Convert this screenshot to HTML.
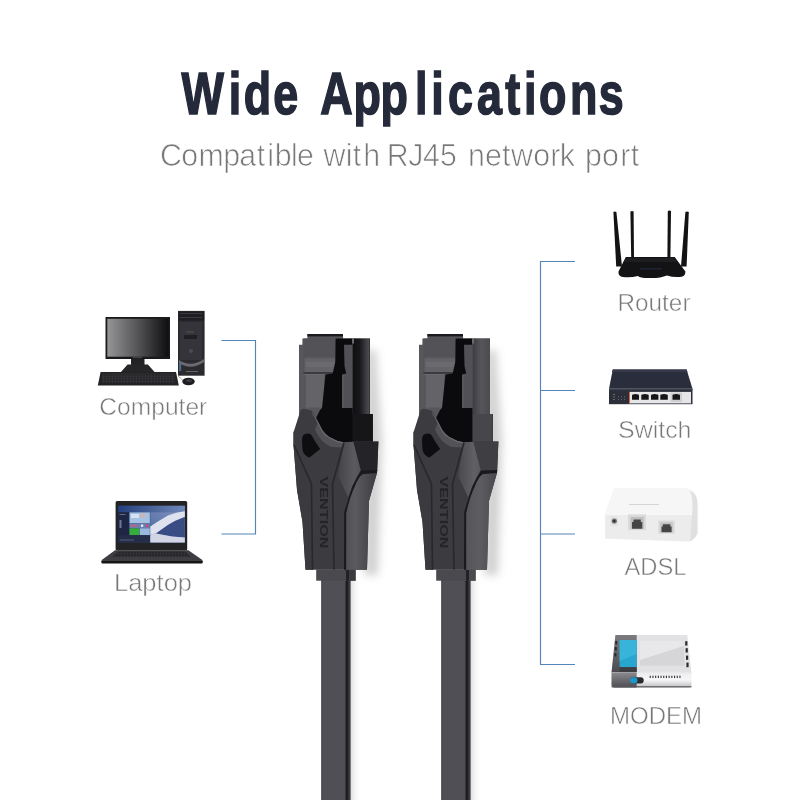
<!DOCTYPE html>
<html><head><meta charset="utf-8">
<style>
html,body{margin:0;padding:0;background:#fff;}
#c{position:relative;width:800px;height:800px;overflow:hidden;background:#fff;}
svg{position:absolute;left:0;top:0;}
</style></head>
<body><div id="c">
<svg width="800" height="800" viewBox="0 0 800 800">
<defs>
  <filter id="nop" x="0" y="0" width="800" height="800" filterUnits="userSpaceOnUse"><feOffset dx="0" dy="0"/></filter>
  <linearGradient id="scr" x1="0" x2="1" y1="0" y2="0">
    <stop offset="0" stop-color="#959597"/><stop offset="0.5" stop-color="#545456"/><stop offset="1" stop-color="#0e0e10"/>
  </linearGradient>
  <linearGradient id="cabR" x1="0" x2="1"><stop offset="0" stop-color="#0f0f11"/><stop offset="0.4" stop-color="#17171a"/><stop offset="0.92" stop-color="#4a4a50"/><stop offset="1" stop-color="#2a2a2e"/></linearGradient>
  <filter id="blur4" x="-50%" y="-20%" width="200%" height="140%"><feGaussianBlur stdDeviation="4"/></filter>
  <linearGradient id="cabR2" x1="0" x2="1"><stop offset="0" stop-color="#3c3c41"/><stop offset="0.5" stop-color="#55555a"/><stop offset="1" stop-color="#4a4a4f"/></linearGradient>
  <pattern id="keys" width="3" height="2.5" patternUnits="userSpaceOnUse"><rect width="3" height="2.5" fill="#202023"/><rect x="0.4" y="0.4" width="2.1" height="1.6" fill="#3c3c41"/></pattern>
  <linearGradient id="lapbg" x1="0" x2="1" y1="0" y2="0"><stop offset="0" stop-color="#2a3c70"/><stop offset="1" stop-color="#5a74a8"/></linearGradient>
  <linearGradient id="laptop" x1="0" x2="1"><stop offset="0" stop-color="#23407e"/><stop offset="1" stop-color="#7088b8"/></linearGradient>
  <linearGradient id="wall" x1="0" x2="1" y1="1" y2="0"><stop offset="0" stop-color="#4a66a4"/><stop offset="1" stop-color="#8494bc"/></linearGradient>
  <linearGradient id="modL" x1="0" x2="0" y1="0" y2="1"><stop offset="0" stop-color="#7c7c80"/><stop offset="1" stop-color="#4a4a4e"/></linearGradient>
  <linearGradient id="modF" x1="0" x2="0" y1="0" y2="1"><stop offset="0" stop-color="#ececee"/><stop offset="0.5" stop-color="#f6f6f7"/><stop offset="1" stop-color="#bdbdc0"/></linearGradient>
  <linearGradient id="modFL" x1="0" x2="0" y1="0" y2="1"><stop offset="0" stop-color="#8a8a8e"/><stop offset="1" stop-color="#4e4e52"/></linearGradient>
  <linearGradient id="rpanel" x1="0" x2="1"><stop offset="0" stop-color="#505055"/><stop offset="0.3" stop-color="#5a5a5f"/><stop offset="1" stop-color="#3c3c41"/></linearGradient>
  <linearGradient id="rpanel2" x1="0" x2="1"><stop offset="0" stop-color="#55555a"/><stop offset="0.45" stop-color="#5c5c61"/><stop offset="1" stop-color="#48484d"/></linearGradient>
  <linearGradient id="wedge" x1="0" x2="1"><stop offset="0" stop-color="#434348"/><stop offset="0.7" stop-color="#5a5a5f"/><stop offset="1" stop-color="#525257"/></linearGradient>
  <linearGradient id="wedge2" x1="0" x2="1"><stop offset="0" stop-color="#48484d"/><stop offset="0.7" stop-color="#606065"/><stop offset="1" stop-color="#58585d"/></linearGradient>
  <linearGradient id="shadow" x1="0" x2="1"><stop offset="0" stop-color="#d8d8d8"/><stop offset="1" stop-color="#fff" stop-opacity="0"/></linearGradient>
</defs>

<!-- TEXT -->
<g filter="url(#nop)">
<text transform="scale(0.748,1)" x="242.61 305.87 326.0 365.19 405.19 428.25 472.57 508.53 554.8 576.39 598.8 637.73 675.57 700.68 720.71 761.91 800.34" y="114.2" font-family="Liberation Sans" font-weight="bold" font-size="60" fill="#252a3a" stroke="#252a3a" stroke-width="1.6">Wide Applications</text>
<text transform="scale(0.97,1)" x="165.05 186.91 204.74 230.12 246.56 264.6 275.4 283.21 300.12 306.28 316.28 333.53 356.32 363.57 374.47 384.47 398.71 420.93 435.98 453.7 463.7 482.51 500.09 517.44 526.83 549.8 567.2 577.18 587.18 603.11 620.68 639.37 650.38" y="166" font-family="Liberation Sans" font-size="31.3" fill="#777" stroke="#fff" stroke-width="0.75">Compatible with RJ45 network port</text>

<g font-family="Liberation Sans" font-size="23.8" fill="#777" stroke="#fff" stroke-width="0.5">
  <text x="99.3" y="414.5" textLength="108" lengthAdjust="spacingAndGlyphs">Computer</text>
  <text x="114" y="591" textLength="78" lengthAdjust="spacingAndGlyphs">Laptop</text>
  <text x="617.5" y="310.5" textLength="73" lengthAdjust="spacingAndGlyphs">Router</text>
  <text x="618" y="437.5" textLength="73.5" lengthAdjust="spacingAndGlyphs">Switch</text>
  <text x="624.5" y="574.5" textLength="62" lengthAdjust="spacingAndGlyphs">ADSL</text>
  <text x="610" y="724.3" textLength="92" lengthAdjust="spacingAndGlyphs">MODEM</text>
</g>
</g>

<!-- BLUE LINES -->
<g stroke="#5286ba" stroke-width="1.15" fill="none">
  <path d="M221.5 340.5 H255.5 V534 H221.5"/>
  <path d="M575 261.5 H540.5 V664.5 H575"/>
  <path d="M540.5 390.5 H575"/>
  <path d="M540.5 534 H575"/>
</g>

<!-- CABLES -->
<g>
  <rect x="350" y="580" width="12" height="220" fill="url(#shadow)" opacity="0.9"/>
  <rect x="321.2" y="580" width="29.4" height="220" fill="#3a3a3f"/>
  <rect x="322.2" y="580" width="23.4" height="220" fill="#4f4f55"/>
  <rect x="345.6" y="580" width="2.6" height="220" fill="#1e1e22"/>
</g>
<g transform="translate(120,0)">
  <rect x="350" y="580" width="12" height="220" fill="url(#shadow)" opacity="0.9"/>
  <rect x="321.2" y="580" width="29.4" height="220" fill="#3a3a3f"/>
  <rect x="322.2" y="580" width="23.4" height="220" fill="#4f4f55"/>
  <rect x="345.6" y="580" width="2.6" height="220" fill="#1e1e22"/>
</g>

<!-- CONNECTOR (left) -->
<g>
  <!-- shadow right -->
  <path d="M366 350 L376 350 L382 440 L378 575 L364 575 Z" fill="#9a9a9a" opacity="0.45" filter="url(#blur4)"/>
  <!-- collar -->
  <rect x="316.2" y="569.5" width="39.4" height="11.2" fill="#49494e"/>
  <rect x="346" y="569.5" width="3" height="11.2" fill="#222226"/>
  <rect x="349" y="569.5" width="6.6" height="11.2" fill="#3a3a3f"/>
  <!-- plug silhouette -->
  <path d="M307.4 334 H343 V338.5 H370 V414 H372.7 V443 H299 V344.7 H302.4 V338.5 H307.4 Z" fill="#56565b"/>
  <!-- top tab dark edge -->
  <rect x="307.4" y="334" width="35.6" height="2.4" fill="#1c1c20"/>
  <!-- latch top block -->
  <rect x="303.5" y="338.5" width="31.8" height="35" fill="#525257"/>
  <rect x="304.5" y="357.5" width="30.8" height="14.8" fill="#636368"/>
  <rect x="304.5" y="357.5" width="30.8" height="1" fill="#58585d"/>
  <rect x="306" y="362" width="29" height="5" fill="#6a6a6f"/>
  <rect x="303.5" y="372.3" width="31.8" height="1.3" fill="#2e2e32"/>
  <!-- lighter panel under block -->
  <rect x="306" y="374.5" width="18" height="33" fill="#636368"/>
  <rect x="303.5" y="374" width="22" height="0.8" fill="#6c6c71"/>
  <!-- right column -->
  <rect x="352.4" y="338.5" width="17.6" height="76" fill="url(#cabR)"/>
  <rect x="351" y="338.5" width="3" height="5" fill="#6a6a6e"/>
  <!-- gray strip -->
  <rect x="344" y="344.7" width="8.4" height="63" fill="#505056"/>
  <!-- black latch -->
  <path d="M335.6 338.5 H352 V344.7 H344 L344.5 366 L346.2 373.5 L342 374.5 L342 408 L352.4 408 L352.4 414 L372.7 414 L372.7 443 L345 445 L336 443 L326 438 L320 430 L316 418 L320 410 L322 408 L325.5 374.5 L332.7 373.5 L335.3 362 Z" fill="#0b0b0d"/>
  <path d="M352.4 414 H372.7 V443 H352.4 Z" fill="#161619"/>
  <!-- boot body -->
  <path d="M293.5 432 L293.5 445 L297 490 L302.5 522 L305.5 569.7 L367 569.7 L369 501 L377 473 L378.4 441.5 L352.5 441.5 L344.5 442.5 L337.5 441 L328.75 436.75 L322.6 430.6 L300 430 Z" fill="#3b3b40"/>
  <!-- left facet -->
  <path d="M293.5 445 L311.5 484 L312.5 569.7 L305.5 569.7 L302.5 522 L297 490 Z" fill="#3a3a3f"/>
  <!-- hood -->
  <path d="M293.5 432 L294.6 429 L300 412 Q301 408.75 303.5 408.75 L311.25 410.5 Q314.5 414 318.25 422 L322.6 430.6 Q325 434.5 328.75 436.75 L337.5 441 L344.5 442.5 L338 458 Q330 461 322 461 Q314 461 308 460 L300 455 L293.5 445 Z" fill="#3b3b40"/>
  <!-- hood highlight band -->
  <path d="M317.5 423 L322.6 430.6 Q325 434.5 328.75 436.75 L337.5 441 L344.5 442.5 L343 447.5 L331 447 Q323 443 319 437 L315 430 Z" fill="#525257"/>
  <path d="M312.5 413 Q315 416 318.25 422 L322.6 430.6 Q325 434.5 328.75 436.75 L337.5 441 L344.5 442.5 L344 443.6 L337 442.2 L328.2 437.8 Q324 435.2 321.6 431 L317.3 422.5 Q314.5 416.5 312 413.6 Z" fill="#6a6a6f"/>
  <!-- hood hole -->
  <path d="M304 434.5 Q307.5 433 310.4 434 Q312.5 436 313.9 439.4 L320.2 449 L309.5 457.5 Q304 456 302.5 450 L302 440 Q302.3 435.5 304 434.5 Z" fill="#0e0e10"/>
  <!-- right wedge -->
  <path d="M344 442 L353.5 442 L361 469.5 L354 484 L348 497 L338 476 Z" fill="url(#wedge)"/>
  <!-- right dark top -->
  <path d="M353.5 442 L378.4 441.5 L377.2 471 L361 471 Z" fill="#242428"/>
  <!-- right lighter panel -->
  <path d="M377 472.5 Q366 473 361 475 Q356 480 352 490 L346 512 L346 569.7 L367 569.7 L369 501 Z" fill="url(#rpanel)"/>
  <!-- dark curve -->
  <path d="M377.2 470 L361 470.5 Q356.5 477 352 487 L344.2 512 L344 569.7 L346.2 569.7 L346.2 513 Q350 496 355 486 Q359 476 363 474 L377 473 Z" fill="#1a1a1e"/>
  <!-- V lines -->
  <path d="M294 445 L311.5 484 L312.5 569.7" stroke="#28282c" stroke-width="1.6" fill="none"/>
  <path d="M344 442.5 L332.5 484 L334 569.7" stroke="#28282c" stroke-width="1.6" fill="none"/>
  <!-- VENTION text -->
  <text transform="translate(320.3,476.5) rotate(90)" font-family="Liberation Sans" font-weight="bold" font-size="10.5" fill="#242428" textLength="72" lengthAdjust="spacingAndGlyphs">VENTION</text>
</g>
<g transform="translate(120,0)">
  <!-- shadow right -->
  <path d="M366 350 L376 350 L382 440 L378 575 L364 575 Z" fill="#9a9a9a" opacity="0.45" filter="url(#blur4)"/>
  <!-- collar -->
  <rect x="316.2" y="569.5" width="39.4" height="11.2" fill="#49494e"/>
  <rect x="346" y="569.5" width="3" height="11.2" fill="#222226"/>
  <rect x="349" y="569.5" width="6.6" height="11.2" fill="#4a4a4f"/>
  <!-- plug silhouette -->
  <path d="M307.4 334 H343 V338.5 H370 V414 H372.7 V443 H299 V344.7 H302.4 V338.5 H307.4 Z" fill="#56565b"/>
  <!-- top tab dark edge -->
  <rect x="307.4" y="334" width="35.6" height="2.4" fill="#1c1c20"/>
  <!-- latch top block -->
  <rect x="303.5" y="338.5" width="31.8" height="35" fill="#525257"/>
  <rect x="304.5" y="357.5" width="30.8" height="14.8" fill="#636368"/>
  <rect x="304.5" y="357.5" width="30.8" height="1" fill="#58585d"/>
  <rect x="306" y="362" width="29" height="5" fill="#6a6a6f"/>
  <rect x="303.5" y="372.3" width="31.8" height="1.3" fill="#2e2e32"/>
  <!-- lighter panel under block -->
  <rect x="306" y="374.5" width="18" height="33" fill="#636368"/>
  <rect x="303.5" y="374" width="22" height="0.8" fill="#6c6c71"/>
  <!-- right column -->
  <rect x="352.4" y="338.5" width="17.6" height="76" fill="url(#cabR2)"/>
  <rect x="351" y="338.5" width="3" height="5" fill="#6a6a6e"/>
  <!-- gray strip -->
  <rect x="344" y="344.7" width="8.4" height="63" fill="#505056"/>
  <!-- black latch -->
  <path d="M335.6 338.5 H352 V344.7 H344 L344.5 366 L346.2 373.5 L342 374.5 L342 408 L352.4 408 L352.4 414 L372.7 414 L372.7 443 L345 445 L336 443 L326 438 L320 430 L316 418 L320 410 L322 408 L325.5 374.5 L332.7 373.5 L335.3 362 Z" fill="#0b0b0d"/>
  <path d="M352.4 414 H372.7 V443 H352.4 Z" fill="#46464b"/>
  <!-- boot body -->
  <path d="M293.5 432 L293.5 445 L297 490 L302.5 522 L305.5 569.7 L367 569.7 L369 501 L377 473 L378.4 441.5 L352.5 441.5 L344.5 442.5 L337.5 441 L328.75 436.75 L322.6 430.6 L300 430 Z" fill="#3b3b40"/>
  <!-- left facet -->
  <path d="M293.5 445 L311.5 484 L312.5 569.7 L305.5 569.7 L302.5 522 L297 490 Z" fill="#3a3a3f"/>
  <!-- hood -->
  <path d="M293.5 432 L294.6 429 L300 412 Q301 408.75 303.5 408.75 L311.25 410.5 Q314.5 414 318.25 422 L322.6 430.6 Q325 434.5 328.75 436.75 L337.5 441 L344.5 442.5 L338 458 Q330 461 322 461 Q314 461 308 460 L300 455 L293.5 445 Z" fill="#3b3b40"/>
  <!-- hood highlight band -->
  <path d="M317.5 423 L322.6 430.6 Q325 434.5 328.75 436.75 L337.5 441 L344.5 442.5 L343 447.5 L331 447 Q323 443 319 437 L315 430 Z" fill="#525257"/>
  <path d="M312.5 413 Q315 416 318.25 422 L322.6 430.6 Q325 434.5 328.75 436.75 L337.5 441 L344.5 442.5 L344 443.6 L337 442.2 L328.2 437.8 Q324 435.2 321.6 431 L317.3 422.5 Q314.5 416.5 312 413.6 Z" fill="#6a6a6f"/>
  <!-- hood hole -->
  <path d="M304 434.5 Q307.5 433 310.4 434 Q312.5 436 313.9 439.4 L320.2 449 L309.5 457.5 Q304 456 302.5 450 L302 440 Q302.3 435.5 304 434.5 Z" fill="#0e0e10"/>
  <!-- right wedge -->
  <path d="M344 442 L353.5 442 L361 469.5 L354 484 L348 497 L338 476 Z" fill="url(#wedge2)"/>
  <!-- right dark top -->
  <path d="M353.5 442 L378.4 441.5 L377.2 471 L361 471 Z" fill="#3e3e43"/>
  <!-- right lighter panel -->
  <path d="M377 472.5 Q366 473 361 475 Q356 480 352 490 L346 512 L346 569.7 L367 569.7 L369 501 Z" fill="url(#rpanel2)"/>
  <!-- dark curve -->
  <path d="M377.2 470 L361 470.5 Q356.5 477 352 487 L344.2 512 L344 569.7 L346.2 569.7 L346.2 513 Q350 496 355 486 Q359 476 363 474 L377 473 Z" fill="#1a1a1e"/>
  <!-- V lines -->
  <path d="M294 445 L311.5 484 L312.5 569.7" stroke="#28282c" stroke-width="1.6" fill="none"/>
  <path d="M344 442.5 L332.5 484 L334 569.7" stroke="#28282c" stroke-width="1.6" fill="none"/>
  <!-- VENTION text -->
  <text transform="translate(320.3,476.5) rotate(90)" font-family="Liberation Sans" font-weight="bold" font-size="10.5" fill="#242428" textLength="72" lengthAdjust="spacingAndGlyphs">VENTION</text>
</g>

<!-- COMPUTER -->
<g>
  <rect x="105.5" y="317" width="64.5" height="42" fill="#1a1a1c"/>
  <rect x="107.3" y="318.8" width="61.2" height="37.9" fill="url(#scr)"/>
  <rect x="133" y="357" width="9" height="1.2" fill="#444"/>
  <rect x="131" y="359" width="13.5" height="6.5" fill="#232325"/>
  <path d="M127.6 364.6 H147.9 L154.6 371.9 H120.9 Z" fill="#262628"/>
  <path d="M100.6 371.9 H176 L178.8 385.4 H97.8 Z" fill="#232326"/>
  <rect x="102" y="373.5" width="73" height="9.5" fill="url(#keys)"/>
  <rect x="178" y="310.9" width="26.6" height="64.8" fill="#2a2a2f"/>
  <rect x="178.5" y="311.5" width="25.6" height="9" fill="#1f1f23"/>
  <rect x="180" y="313" width="22" height="1" fill="#3a3a40"/>
  <rect x="180" y="317" width="22" height="1" fill="#3a3a40"/>
  <rect x="180" y="322" width="22" height="38" fill="#34343a"/>
  <rect x="184" y="335" width="13" height="4" fill="#202024"/>
  <rect x="186" y="331.5" width="8" height="1" fill="#555"/>
  <circle cx="191" cy="351" r="2" fill="#4a4a50"/>
  <path d="M179 360 Q191 368 204 359 L204 362 Q191 371 179 363 Z" fill="#6a6a70"/>
  <rect x="179" y="363" width="2.2" height="8" fill="#4a6a90"/>
  <rect x="186" y="371" width="12" height="1" fill="#666"/>
  <ellipse cx="188.5" cy="381.5" rx="6.2" ry="3.8" fill="#1e1e22"/>
  <ellipse cx="189" cy="380.5" rx="3" ry="1.6" fill="#3a3a40"/>
  <path d="M178 376 Q182 379 183 381" stroke="#777" stroke-width="0.6" fill="none"/>
</g>

<!-- LAPTOP -->
<g>
  <rect x="115.6" y="501" width="71.6" height="49.5" rx="1.5" fill="#232326"/>
  <rect x="118.3" y="505.8" width="66.5" height="36.6" fill="url(#lapbg)"/>
  <rect x="118.3" y="505.8" width="66.5" height="6.4" fill="url(#laptop)"/>
  <rect x="118.3" y="512.2" width="11" height="26" fill="#1e2644"/>
  <rect x="119.5" y="514" width="6" height="0.8" fill="#7080a0"/>
  <rect x="119.5" y="520" width="2" height="8" fill="#6a7898"/>
  <rect x="129.5" y="512.4" width="20.3" height="10.8" fill="#a6c2e2"/>
  <rect x="131" y="514" width="8" height="4" fill="#d4e2f2"/>
  <rect x="141" y="513.5" width="4" height="4" fill="#d8b0a8"/>
  <rect x="129.5" y="523.4" width="20.3" height="4.7" fill="#6a7fb0"/>
  <rect x="131" y="524.5" width="2.2" height="2.4" fill="#d06070"/>
  <rect x="134.5" y="524.5" width="2.2" height="2.4" fill="#d06070"/>
  <rect x="141" y="524.5" width="2.2" height="2.4" fill="#e8eef8"/>
  <rect x="146" y="524.5" width="2.2" height="2.4" fill="#d04a60"/>
  <rect x="129.5" y="528.3" width="10" height="6.8" fill="#36ac3a"/>
  <rect x="139.8" y="528.3" width="10" height="6.8" fill="#9ab8de"/>
  <rect x="118.3" y="535.1" width="32" height="7.3" fill="#252c48"/>
  <rect x="120" y="539.5" width="14" height="1" fill="#55607a"/>
  <path d="M150.3 512.2 H184.8 V542.4 H150.3 Z" fill="url(#wall)"/>
  <path d="M150.3 526.5 Q160 520 168 515.5 Q176 512 184.8 511.2 V517 Q176 520 168 525 L156 533.5 L150.3 534.5 Z" fill="#dde2ee"/>
  <path d="M156 533.5 L168 525 Q176 520 184.8 517 V537.5 L172 536.5 Z" fill="#3a4c84"/>
  <path d="M150.3 534.5 L156 533.5 L172 536.5 L184.8 537.5 V542.4 H150.3 Z" fill="#d2d6e4"/>
  <path d="M115 550.3 H188.4 L202.7 560.3 H101.4 Z" fill="#3e3e42"/>
  <path d="M118.5 551.3 H185 L191 557 H112 Z" fill="url(#keys)"/>
  <rect x="101.4" y="560.3" width="101.3" height="3.2" rx="1" fill="#151517"/>
</g>

<!-- ROUTER -->
<g fill="#131315">
  <path d="M613.4 212 Q614.8 211 616.4 212 L622 266.5 L616.2 266.5 Z"/>
  <path d="M630.4 211.5 Q632 210.5 633.6 211.5 L634 258 L631.2 258 Z"/>
  <path d="M667.8 211 Q669.4 210 671 211 L670.4 258 L667.4 258 Z"/>
  <path d="M685.4 212 Q687 211 688.8 212 L686.6 266.5 L681 266.5 Z"/>
  <path d="M625.8 257 H674.7 L685.4 271.4 Q685.5 276.5 680 277 Q673 277.5 667 275.5 Q660 278.5 648 278 Q640 278 638 276 Q630 278 623 277 Q618 276 618.5 271.4 Z"/>
  <path d="M626.5 258 H674 L677 262 H623.5 Z" fill="#1e1e21"/>
  <rect x="640" y="268.5" width="22" height="0.8" fill="#2a3550"/>
</g>

<!-- SWITCH -->
<g>
  <path d="M612.8 369.5 H686.6 L692.5 388.8 H609 Z" fill="#2a2d3b"/>
  <path d="M612.8 369.5 H686.6 L687.5 372 H612 Z" fill="#353949"/>
  <rect x="609" y="388.8" width="83.5" height="15.4" fill="#2c2f3a"/>
  <rect x="609" y="388.8" width="83.5" height="1.2" fill="#3c4050"/>
  <rect x="629" y="391.9" width="62" height="11.5" fill="#e6e6e8"/>
  <rect x="629" y="391.9" width="1" height="11.5" fill="#c86a4a"/>
  <rect x="670.5" y="392.6" width="11.5" height="9.5" fill="#cfcfd2"/>
  <g fill="#151517">
    <path d="M632 399.7 V395.5 Q632 394 635.5 394 Q639 394 639 395.5 V399.7 Z"/>
    <path d="M641.3 399.7 V395.5 Q641.3 394 645 394 Q648.7 394 648.7 395.5 V399.7 Z"/>
    <path d="M651 399.7 V395.5 Q651 394 654.7 394 Q658.4 394 658.4 395.5 V399.7 Z"/>
    <path d="M660.3 399.7 V395.5 Q660.3 394 664 394 Q667.8 394 667.8 395.5 V399.7 Z"/>
    <path d="M672.5 399.7 V395.5 Q672.5 394 676.2 394 Q680 394 680 395.5 V399.7 Z"/>
  </g>
  <g fill="#777">
    <rect x="613" y="394" width="2" height="0.8"/><rect x="613" y="396.5" width="2" height="0.8"/><rect x="613" y="399" width="2" height="0.8"/>
    <rect x="618" y="396.5" width="1" height="0.8"/><rect x="621" y="396.5" width="1" height="0.8"/><rect x="624" y="396.5" width="1" height="0.8"/>
    <rect x="618" y="399" width="1" height="0.8"/><rect x="621" y="399" width="1" height="0.8"/><rect x="624" y="399" width="1" height="0.8"/>
  </g>
</g>

<!-- ADSL -->
<g>
  <path d="M614 488.5 H686 Q697 490 697.5 502 V533 Q696 538 690 541.5 L605.3 538.5 V516 Q606 510 610 500 Z" fill="#f1f1f1"/>
  <path d="M614 488.5 H686 Q694 490 692 514.5 H605.3 Q606 510 610 500 Z" fill="#f6f6f6"/>
  <path d="M605.3 514.5 H692 L690 541.5 L605.3 538.5 Z" fill="#ececec"/>
  <path d="M692 514.5 Q694 500 690 491 Q697.5 494 697.5 504 V533 Q696 538 690 541.5 Z" fill="#e0e0e0"/>
  <rect x="605.3" y="514" width="87" height="0.8" fill="#fafafa"/>
  <rect x="628" y="514.4" width="18" height="15.8" fill="#dadada"/>
  <rect x="630.5" y="517" width="13.3" height="11.8" fill="#bfbfbf"/>
  <path d="M632 528.8 V522 H633.5 V519.5 H640.8 V522 H642.3 V528.8 Z" fill="#454545"/>
  <rect x="658.3" y="520.6" width="16.5" height="13" fill="#dadada"/>
  <rect x="660.3" y="522.3" width="12.5" height="10" fill="#c4c4c4"/>
  <path d="M661.5 532.3 V526.5 H662.8 V524.3 H670.3 V526.5 H671.6 V532.3 Z" fill="#454545"/>
  <rect x="610.5" y="516.5" width="7.5" height="9.5" fill="#e2e2e2"/>
  <circle cx="614.3" cy="521" r="2.6" fill="#6a6a6a"/>
  <circle cx="614.3" cy="521" r="1.1" fill="#1e1e1e"/>
  <rect x="629" y="504" width="30" height="0.8" fill="#cfcfcf"/>
</g>

<!-- MODEM -->
<g>
  <path d="M615.4 635 H687.3 L691.5 673.4 H611.5 Z" fill="#e2e2e4"/>
  <path d="M615.4 635 H636.7 V672.5 H611.5 Z" fill="url(#modL)"/>
  <path d="M619.6 640 H636.7 V667.2 H619.6 Z" fill="#29a6cf"/>
  <path d="M619.6 640 H636.7 V654 L619.6 661 Z" fill="#38b4da"/>
  <rect x="619.6" y="667.2" width="17.1" height="5" fill="#3e3e42"/>
  <g fill="#2a2a2e"><rect x="615.2" y="641" width="2" height="3.5"/><rect x="614.8" y="647" width="2" height="3.5"/><rect x="614.4" y="653" width="2" height="3.5"/></g>
  <path d="M640 640.9 H683.4 L684.5 665.7 H640 Z" fill="#d6d6d8"/>
  <path d="M640 640.9 H683.4 L683.6 646 L640 660 Z" fill="#e8e8ea"/>
  <g fill="#2a2a2e"><rect x="685.2" y="641.2" width="2.2" height="4.3"/><rect x="685.6" y="648.2" width="2.2" height="4.3"/><rect x="686" y="655.6" width="2.2" height="4.2"/><rect x="686.4" y="662.6" width="2.2" height="4.6"/></g>
  <path d="M611.5 672.5 H691.5 V685 Q691.5 687.4 689 687.4 H614 Q611.5 687.4 611.5 685 Z" fill="url(#modF)"/>
  <path d="M611.5 672.5 H636.7 V687.4 H614 Q611.5 687.4 611.5 685 Z" fill="url(#modFL)"/>
  <rect x="611.5" y="686.2" width="80" height="1.2" fill="#5a5a5e"/>
  <rect x="630" y="677.3" width="13.7" height="6.2" rx="3" fill="#2a2a2e"/>
  <rect x="630" y="677.3" width="7.5" height="6.2" rx="3" fill="#1e96c8"/>
  <g fill="#333">
    <rect x="649.7" y="675.7" width="1.1" height="2.3"/><rect x="652.4" y="675.7" width="1.1" height="2.3"/><rect x="655.1" y="675.7" width="1.1" height="2.3"/><rect x="657.8" y="675.7" width="1.1" height="2.3"/><rect x="660.5" y="675.7" width="1.1" height="2.3"/><rect x="663.2" y="675.7" width="1.1" height="2.3"/><rect x="665.9" y="675.7" width="1.1" height="2.3"/><rect x="668.6" y="675.7" width="1.1" height="2.3"/><rect x="671.3" y="675.7" width="1.1" height="2.3"/><rect x="674" y="675.7" width="1.1" height="2.3"/><rect x="676.7" y="675.7" width="1.1" height="2.3"/><rect x="679.4" y="675.7" width="1.1" height="2.3"/>
  </g>
</g>
</svg>
</div></body></html>
